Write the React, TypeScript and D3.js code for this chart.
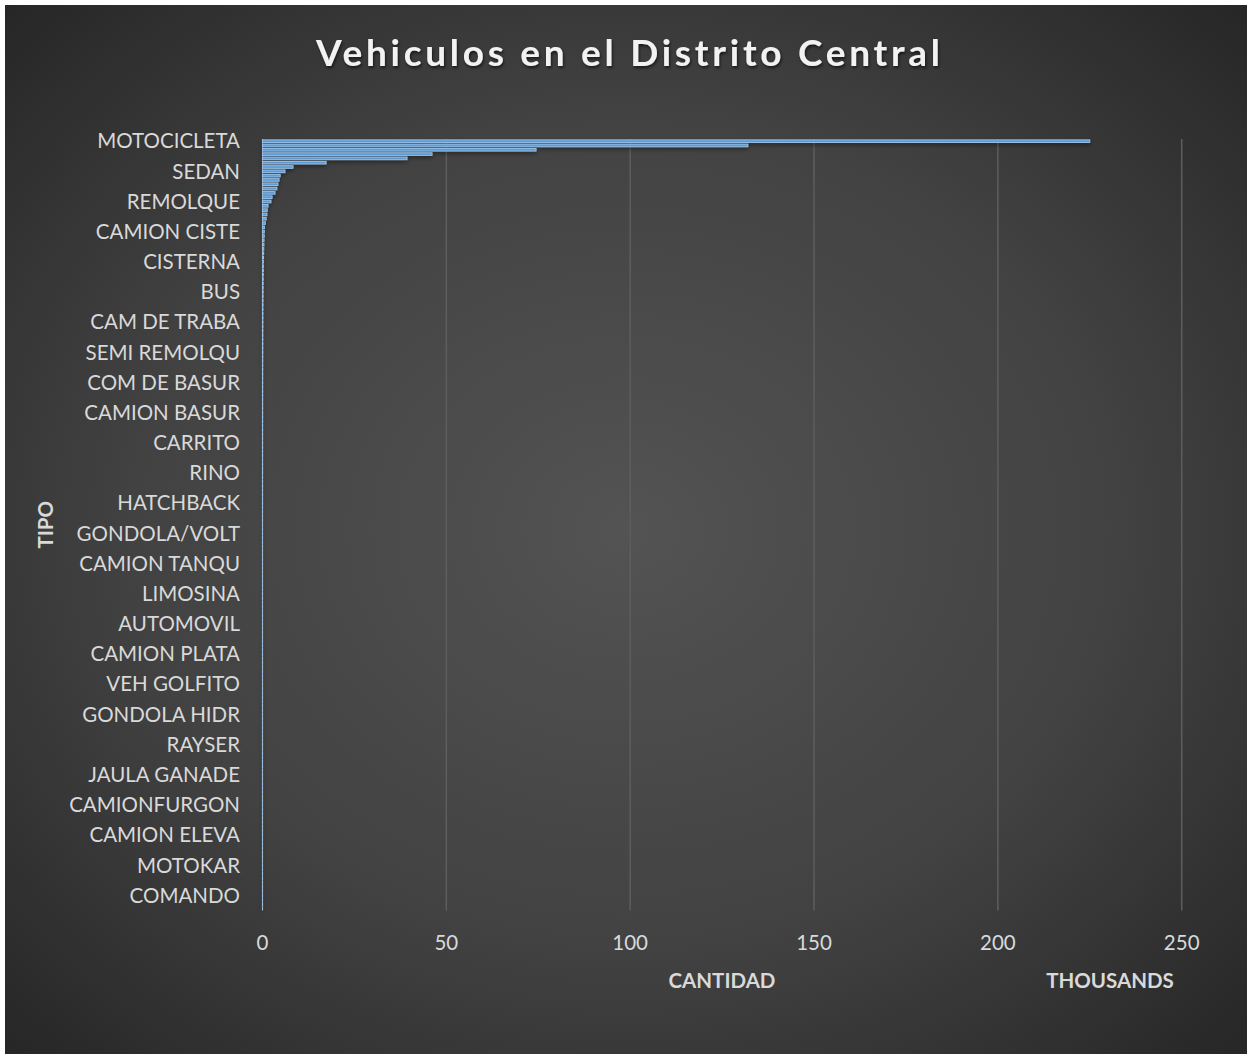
import React from "react";
import * as d3 from "d3";

// Values in thousands, one per vehicle type (top to bottom)
const values: number[] = [
  225.0, 132.0, 74.4, 46.1, 39.3, 17.3, 8.3, 6.1, 4.8, 4.5,
  4.2, 3.9, 3.4, 2.6, 2.3, 1.5, 1.3, 1.2, 1.0, 0.77,
  0.52, 0.5, 0.48, 0.42, 0.4, 0.34, 0.31, 0.29, 0.27, 0.25,
  0.23, 0.21, 0.2, 0.19, 0.18, 0.17, 0.16, 0.15, 0.14, 0.13,
  0.12, 0.115, 0.11, 0.105, 0.1, 0.095, 0.09, 0.085, 0.08, 0.076,
  0.072, 0.068, 0.064, 0.06, 0.057, 0.054, 0.051, 0.048, 0.045, 0.043,
  0.041, 0.039, 0.037, 0.035, 0.033, 0.031, 0.03, 0.029, 0.028, 0.027,
  0.026, 0.025, 0.024, 0.023, 0.022, 0.021, 0.02, 0.019, 0.019, 0.018,
  0.018, 0.017, 0.017, 0.016, 0.016, 0.015, 0.015, 0.014, 0.014, 0.013,
  0.013, 0.012, 0.012, 0.012, 0.011, 0.011, 0.011, 0.01, 0.01, 0.01,
  0.009, 0.009, 0.009, 0.009, 0.008, 0.008, 0.008, 0.008, 0.007, 0.007,
  0.007, 0.007, 0.006, 0.006, 0.006, 0.006, 0.006, 0.005, 0.005, 0.005,
  0.005, 0.005, 0.004, 0.004, 0.004, 0.004, 0.004, 0.004, 0.003, 0.003,
  0.003, 0.003, 0.003, 0.003, 0.003, 0.003, 0.002, 0.002, 0.002, 0.002,
  0.002, 0.002, 0.002, 0.002, 0.002, 0.002, 0.002, 0.002, 0.001, 0.001,
  0.001, 0.001, 0.001, 0.001, 0.001, 0.001, 0.001, 0.001, 0.001, 0.001,
  0.001, 0.001, 0.001, 0.001, 0.001, 0.001, 0.001, 0.001, 0.001, 0.001,
  0.001, 0.001, 0.001, 0.001, 0.001, 0.001, 0.001, 0.001, 0.001,
];

// Category labels shown on the axis (every 7th vehicle type)
const tickLabels: string[] = [
  "MOTOCICLETA", "SEDAN", "REMOLQUE", "CAMION CISTE", "CISTERNA", "BUS",
  "CAM DE TRABA", "SEMI REMOLQU", "COM DE BASUR", "CAMION BASUR", "CARRITO",
  "RINO", "HATCHBACK", "GONDOLA/VOLT", "CAMION TANQU", "LIMOSINA", "AUTOMOVIL",
  "CAMION PLATA", "VEH GOLFITO", "GONDOLA HIDR", "RAYSER", "JAULA GANADE",
  "CAMIONFURGON", "CAMION ELEVA", "MOTOKAR", "COMANDO",
];
const labelStep = 7;

const xTicks: number[] = [0, 50, 100, 150, 200, 250];

const title = "Vehiculos en el Distrito Central";
const xTitle = "CANTIDAD";
const unitTitle = "THOUSANDS";
const yTitle = "TIPO";

const W = 1252;
const H = 1059;
const FONT = "Lato, 'Open Sans', 'DejaVu Sans', sans-serif";
const FS = 20.5;

export default function App() {
  const x = d3.scaleLinear().domain([0, 250]).range([262.5, 1181.7]);
  const y = d3
    .scaleBand<number>()
    .domain(d3.range(values.length))
    .range([139, 910.6])
    .paddingInner(0.4)
    .paddingOuter(0.2);

  return (
    <svg
      width={W}
      height={H}
      style={{ position: "absolute", left: 0, top: 0, background: "#fff" }}
    >
      <defs>
        <radialGradient id="bg" cx="0.5" cy="0.5" r="0.72">
          <stop offset="0" stopColor="#535353" />
          <stop offset="0.55" stopColor="#424242" />
          <stop offset="1" stopColor="#252525" />
        </radialGradient>
        <filter id="shadow" x="-5%" y="-50%" width="110%" height="300%">
          <feDropShadow dx="0" dy="2" stdDeviation="2" floodColor="#000" floodOpacity="0.45" />
        </filter>
        <filter id="tshadow" x="-5%" y="-20%" width="110%" height="160%">
          <feDropShadow dx="1" dy="2" stdDeviation="1.5" floodColor="#000" floodOpacity="0.6" />
        </filter>
      </defs>
      <rect x={5} y={5} width={W - 10} height={H - 10} fill="url(#bg)" />

      {/* title */}
      <text
        x={628}
        y={57}
        textAnchor="middle"
        dominantBaseline="middle"
        fontFamily={FONT}
        fontWeight="bold"
        fontSize={37}
        fill="#f2f2f2"
        textLength={624}
        lengthAdjust="spacing"
        filter="url(#tshadow)"
      >
        {title}
      </text>

      {/* gridlines */}
      {xTicks
        .filter((t) => t > 0)
        .map((t) => (
          <line
            key={"g" + t}
            x1={x(t)}
            x2={x(t)}
            y1={139}
            y2={910.6}
            stroke="#5e5e5e"
            strokeWidth={1.5}
          />
        ))}

      {/* category axis line */}
      <line x1={x(0)} x2={x(0)} y1={139} y2={910.6} stroke="#9a9a9a" strokeWidth={1.2} />

      {/* bars */}
      <g filter="url(#shadow)">
        {values.map((v, i) => (
          <rect
            key={i}
            x={x(0)}
            y={y(i)!}
            width={Math.max(0, x(v) - x(0))}
            height={y.bandwidth()}
            fill="#5b9bd5"
            stroke="#9cc4ea"
            strokeWidth={0.9}
          />
        ))}
      </g>

      {/* category labels */}
      {tickLabels.map((lab, k) => (
        <text
          key={lab}
          x={240}
          y={(y(k * labelStep) ?? 0) + y.bandwidth() / 2 + 2}
          textAnchor="end"
          dominantBaseline="middle"
          fontFamily={FONT}
          fontSize={FS}
          fill="#d9d9d9"
        >
          {lab}
        </text>
      ))}

      {/* value tick labels */}
      {xTicks.map((t) => (
        <text
          key={"t" + t}
          x={x(t)}
          y={945}
          textAnchor="middle"
          dominantBaseline="middle"
          fontFamily={FONT}
          fontSize={FS}
          fill="#d9d9d9"
        >
          {t}
        </text>
      ))}

      {/* axis titles */}
      <text
        x={722}
        y={983}
        textAnchor="middle"
        dominantBaseline="middle"
        fontFamily={FONT}
        fontWeight="bold"
        fontSize={FS}
        fill="#d9d9d9"
      >
        {xTitle}
      </text>
      <text
        x={1110}
        y={983}
        textAnchor="middle"
        dominantBaseline="middle"
        fontFamily={FONT}
        fontWeight="bold"
        fontSize={FS}
        fill="#d9d9d9"
      >
        {unitTitle}
      </text>
      <text
        transform={`translate(48, ${(139 + 910.6) / 2}) rotate(-90)`}
        textAnchor="middle"
        dominantBaseline="middle"
        fontFamily={FONT}
        fontWeight="bold"
        fontSize={FS}
        fill="#d9d9d9"
      >
        {yTitle}
      </text>
    </svg>
  );
}
